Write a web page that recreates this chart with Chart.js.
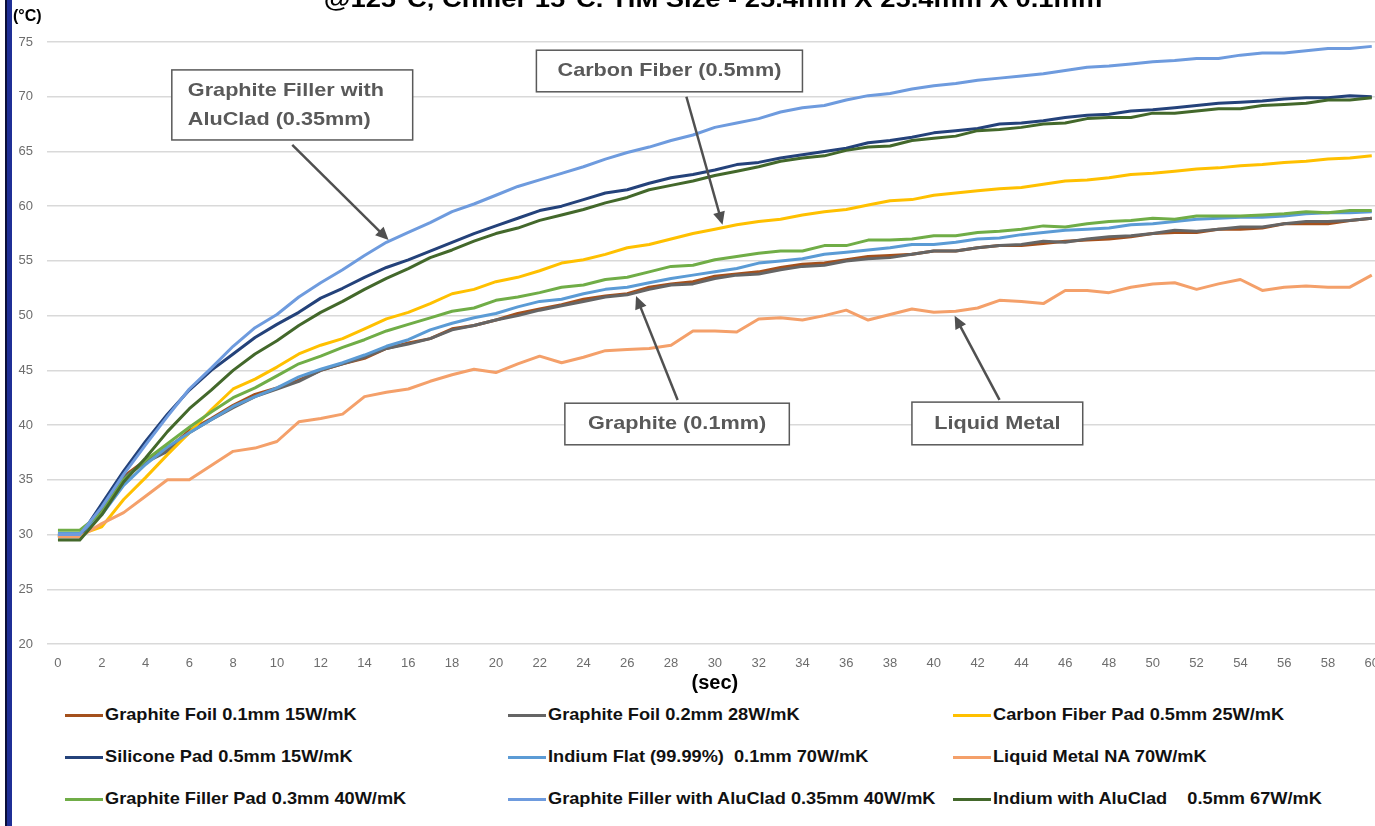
<!DOCTYPE html>
<html lang="en">
<head>
    <meta charset="UTF-8">
    <title>TIM temperature vs time</title>
    <script src="https://cdn.jsdelivr.net/npm/chart.js"></script>
    <style>
        html, body {
            margin: 0;
            padding: 0;
            background: #fff;
            width: 1375px;
            height: 826px;
            overflow: hidden;
            font-family: "Liberation Sans", Arial, sans-serif;
        }
        .page {
            position: relative;
            width: 1375px;
            height: 826px;
            overflow: hidden;
        }
        .side-bar {
            position: absolute;
            left: 5px;
            top: 0;
            width: 5px;
            height: 826px;
            background: #1f2f96;
            border-left: 2px solid #0a0f3a;
        }
        .title {
            position: absolute;
            top: -13px;
            left: 713px;
            font-weight: bold;
            font-size: 24px;
            line-height: 24px;
            color: #000;
            white-space: nowrap;
            transform: translateX(-50%) scaleX(1.14);
        }
        .unit-y {
            position: absolute;
            left: 13px;
            top: 7px;
            font-weight: bold;
            font-size: 16px;
            color: #000;
        }
        #timChart {
            position: absolute;
            left: 0;
            top: 0;
        }
        .legend-item {
            position: absolute;
            display: flex;
            align-items: center;
            height: 20px;
            white-space: pre;
        }
        .legend-item .swatch {
            width: 38px;
            height: 3px;
            margin-right: 2px;
        }
        .legend-item span {
            display: inline-block;
            font-weight: bold;
            font-size: 17px;
            color: #111;
            white-space: pre;
            transform: scaleX(1.07);
            transform-origin: left center;
        }
    </style>
</head>
<body>
<div class="page">
    <canvas id="timChart" width="1391" height="700"></canvas>
    <div class="title">@125°C, Chiller 15°C. TIM Size - 25.4mm X 25.4mm X 0.1mm</div>
    <div class="unit-y">(°C)</div>
    <div id="legend"></div>
    <div class="side-bar"></div>
</div>

<script>
// time axis (seconds)
const seconds = [0,1,2,3,4,5,6,7,8,9,10,11,12,13,14,15,16,17,18,19,20,
    21,22,23,24,25,26,27,28,29,30,31,32,33,34,35,36,37,38,39,40,
    41,42,43,44,45,46,47,48,49,50,51,52,53,54,55,56,57,58,59,60];

const seriesNames = [
    'Graphite Foil 0.1mm 15W/mK',
    'Graphite Foil 0.2mm 28W/mK',
    'Carbon Fiber Pad 0.5mm 25W/mK',
    'Silicone Pad 0.5mm 15W/mK',
    'Indium Flat (99.99%)  0.1mm 70W/mK',
    'Liquid Metal NA 70W/mK',
    'Graphite Filler Pad 0.3mm 40W/mK',
    'Graphite Filler with AluClad 0.35mm 40W/mK',
    'Indium with AluClad    0.5mm 67W/mK'
];
const seriesColors = ['#a4501c', '#656565', '#ffc000', '#24427a', '#5b9bd5', '#f4a06a', '#70ad47', '#6e9bde', '#43682b'];

const graphiteFoil01 = [29.9,29.9,32.2,35.3,36.8,37.8,39.5,40.6,41.8,42.8,43.4,44.1,45.0,45.6,46.1,47.0,47.5,47.9,48.8,49.1,49.6,
    50.2,50.6,51.0,51.5,51.8,52.0,52.6,52.9,53.1,53.6,53.8,54.0,54.4,54.7,54.8,55.1,55.4,55.5,55.6,55.9,
    55.9,56.2,56.4,56.4,56.6,56.8,56.9,57.0,57.2,57.5,57.6,57.6,57.9,57.9,58.0,58.4,58.4,58.4,58.7,58.9];
const graphiteFoil02 = [29.9,29.9,32.3,35.2,36.6,37.6,39.3,40.5,41.6,42.6,43.3,44.0,45.0,45.6,46.2,47.0,47.4,47.9,48.7,49.1,49.6,
    50.0,50.5,50.9,51.3,51.7,51.9,52.4,52.8,52.9,53.4,53.7,53.8,54.2,54.5,54.6,55.0,55.2,55.3,55.6,55.9,
    55.9,56.2,56.4,56.5,56.8,56.7,57.0,57.2,57.3,57.5,57.8,57.7,57.9,58.1,58.1,58.4,58.6,58.6,58.7,58.9];
const carbonFiber = [30.0,30.0,30.7,33.2,35.2,37.3,39.3,41.4,43.3,44.2,45.3,46.5,47.3,47.9,48.8,49.7,50.3,51.1,52.0,52.4,53.1,
    53.5,54.1,54.8,55.1,55.6,56.2,56.5,57.0,57.5,57.9,58.3,58.6,58.8,59.2,59.5,59.7,60.1,60.5,60.6,61.0,
    61.2,61.4,61.6,61.7,62.0,62.3,62.4,62.6,62.9,63.0,63.2,63.4,63.5,63.7,63.8,64.0,64.1,64.3,64.4,64.6];
const siliconePad = [29.8,29.8,32.8,35.8,38.5,41.0,43.2,45.0,46.5,48.0,49.2,50.3,51.6,52.5,53.5,54.4,55.1,55.9,56.7,57.5,58.2,
    58.9,59.6,60.0,60.6,61.2,61.5,62.1,62.6,62.9,63.3,63.8,64.0,64.4,64.7,65.0,65.3,65.8,66.0,66.3,66.7,
    66.9,67.1,67.5,67.6,67.8,68.1,68.3,68.4,68.7,68.8,69.0,69.2,69.4,69.5,69.6,69.8,69.9,69.9,70.1,70.0];
const indiumFlat = [30.1,30.1,31.8,34.5,36.4,38.0,39.3,40.5,41.7,42.6,43.4,44.4,45.1,45.7,46.4,47.2,47.8,48.7,49.3,49.8,50.2,
    50.8,51.3,51.5,52.0,52.4,52.6,53.0,53.4,53.7,54.0,54.3,54.8,55.0,55.2,55.6,55.8,56.0,56.2,56.5,56.5,
    56.7,57.0,57.1,57.4,57.6,57.8,57.9,58.0,58.3,58.4,58.6,58.8,58.9,59.0,59.0,59.1,59.3,59.4,59.4,59.5];
const liquidMetal = [29.8,29.8,31.0,32.0,33.5,35.0,35.0,36.3,37.6,37.9,38.5,40.3,40.6,41.0,42.6,43.0,43.3,44.0,44.6,45.1,44.8,
    45.6,46.3,45.7,46.2,46.8,46.9,47.0,47.3,48.6,48.6,48.5,49.7,49.8,49.6,50.0,50.5,49.6,50.1,50.6,50.3,
    50.4,50.7,51.4,51.3,51.1,52.3,52.3,52.1,52.6,52.9,53.0,52.4,52.9,53.3,52.3,52.6,52.7,52.6,52.6,53.7];
const graphiteFillerPad = [30.4,30.4,32.0,35.0,36.8,38.3,39.8,41.2,42.5,43.4,44.5,45.6,46.3,47.1,47.8,48.6,49.2,49.8,50.4,50.7,51.4,
    51.7,52.1,52.6,52.8,53.3,53.5,54.0,54.5,54.6,55.1,55.4,55.7,55.9,55.9,56.4,56.4,56.9,56.9,57.0,57.3,
    57.3,57.6,57.7,57.9,58.2,58.1,58.4,58.6,58.7,58.9,58.8,59.1,59.1,59.1,59.2,59.3,59.5,59.4,59.6,59.6];
const graphiteFillerAluClad = [30.0,30.0,32.5,35.5,38.2,40.8,43.3,45.2,47.2,48.9,50.1,51.7,53.0,54.2,55.5,56.7,57.6,58.5,59.5,60.2,61.0,
    61.8,62.4,63.0,63.6,64.3,64.9,65.4,66.0,66.5,67.2,67.6,68.0,68.6,69.0,69.2,69.7,70.1,70.3,70.7,71.0,
    71.2,71.5,71.7,71.9,72.1,72.4,72.7,72.8,73.0,73.2,73.3,73.5,73.5,73.8,74.0,74.0,74.2,74.4,74.4,74.6];
const indiumAluClad = [29.5,29.5,31.8,34.8,37.0,39.4,41.5,43.2,45.0,46.5,47.7,49.1,50.3,51.3,52.4,53.4,54.3,55.3,56.0,56.8,57.5,
    58.0,58.7,59.2,59.7,60.3,60.8,61.5,61.9,62.3,62.8,63.2,63.6,64.1,64.4,64.6,65.1,65.4,65.5,66.0,66.2,
    66.4,66.9,67.0,67.2,67.5,67.6,68.0,68.1,68.1,68.5,68.5,68.7,68.9,68.9,69.2,69.3,69.4,69.7,69.7,69.9];

const seriesValues = [graphiteFoil01, graphiteFoil02, carbonFiber, siliconePad, indiumFlat,
    liquidMetal, graphiteFillerPad, graphiteFillerAluClad, indiumAluClad];

// callouts: box corners and arrow ends in (seconds, °C)
const callouts = [
    { lines: ['Graphite Filler with', 'AluClad (0.35mm)'], align: 'left', box: [5.2, 72.45, 16.2, 66.05], from: [10.7, 65.6], to: [15.1, 56.9] },
    { lines: ['Carbon Fiber (0.5mm)'], align: 'center', box: [21.85, 74.25, 34.0, 70.45], from: [28.7, 70.0], to: [30.35, 58.3] },
    { lines: ['Graphite (0.1mm)'], align: 'center', box: [23.15, 42.0, 33.4, 38.2], from: [28.3, 42.3], to: [26.4, 51.8] },
    { lines: ['Liquid Metal'], align: 'center', box: [39.0, 42.1, 46.8, 38.2], from: [43.0, 42.3], to: [40.95, 50.0] }
];

const calloutPlugin = {
    id: 'callouts',
    afterDatasetsDraw(chart) {
        const ctx = chart.ctx;
        const xs = chart.scales.x, ys = chart.scales.y;
        ctx.save();
        callouts.forEach(c => {
            const x1 = xs.getPixelForValue(c.box[0]), y1 = ys.getPixelForValue(c.box[1]);
            const x2 = xs.getPixelForValue(c.box[2]), y2 = ys.getPixelForValue(c.box[3]);
            ctx.fillStyle = '#fff';
            ctx.fillRect(x1, y1, x2 - x1, y2 - y1);
            ctx.strokeStyle = '#595959';
            ctx.lineWidth = 1.5;
            ctx.strokeRect(x1, y1, x2 - x1, y2 - y1);

            ctx.fillStyle = '#595959';
            ctx.font = 'bold 19px "Liberation Sans", Arial, sans-serif';
            ctx.textBaseline = 'middle';
            const lh = 29;
            const cy = (y1 + y2) / 2 - (c.lines.length - 1) * lh / 2;
            c.lines.forEach((t, i) => {
                const w = ctx.measureText(t).width * 1.14;
                const tx = c.align === 'left' ? x1 + 16 : (x1 + x2) / 2 - w / 2;
                ctx.save();
                ctx.translate(tx, cy + i * lh);
                ctx.scale(1.14, 1);
                ctx.textAlign = 'left';
                ctx.fillText(t, 0, 0);
                ctx.restore();
            });

            // arrow
            const ax = xs.getPixelForValue(c.from[0]), ay = ys.getPixelForValue(c.from[1]);
            const bx = xs.getPixelForValue(c.to[0]), by = ys.getPixelForValue(c.to[1]);
            const ang = Math.atan2(by - ay, bx - ax);
            const head = 13;
            ctx.strokeStyle = '#505050';
            ctx.lineWidth = 2.5;
            ctx.beginPath();
            ctx.moveTo(ax, ay);
            ctx.lineTo(bx - Math.cos(ang) * head * 0.8, by - Math.sin(ang) * head * 0.8);
            ctx.stroke();
            ctx.fillStyle = '#505050';
            ctx.beginPath();
            ctx.moveTo(bx, by);
            ctx.lineTo(bx - head * Math.cos(ang) + 6 * Math.sin(ang), by - head * Math.sin(ang) - 6 * Math.cos(ang));
            ctx.lineTo(bx - head * Math.cos(ang) - 6 * Math.sin(ang), by - head * Math.sin(ang) + 6 * Math.cos(ang));
            ctx.closePath();
            ctx.fill();
        });
        ctx.restore();
    }
};

const datasets = seriesNames.map((name, i) => ({
    label: name,
    data: seriesValues[i],
    borderColor: seriesColors[i],
    backgroundColor: seriesColors[i],
    borderWidth: 3,
    pointRadius: 0,
    tension: 0,
    fill: false,
    borderJoinStyle: 'round',
    order: seriesNames.length - i
}));

new Chart(document.getElementById('timChart'), {
    type: 'line',
    data: { labels: seconds, datasets: datasets },
    options: {
        responsive: false,
        animation: false,
        layout: { padding: { top: 42, left: 0, right: 0, bottom: 0 } },
        plugins: {
            legend: { display: false },
            title: { display: false },
            tooltip: { enabled: false }
        },
        scales: {
            x: {
                type: 'category',
                offset: true,
                grid: { display: false, drawTicks: false },
                border: { display: false },
                ticks: {
                    autoSkip: false,
                    maxRotation: 0,
                    padding: 12,
                    color: '#6d6d6d',
                    font: { family: '"Liberation Sans", Arial, sans-serif', size: 13 },
                    callback: (v, i) => (i % 2 === 0 ? seconds[i] : '')
                },
                title: {
                    display: true,
                    text: '(sec)',
                    color: '#000',
                    font: { family: '"Liberation Sans", Arial, sans-serif', size: 20, weight: 'bold' },
                    padding: { top: 0, bottom: 5 }
                },
                afterFit: s => { s.height = 56; }
            },
            y: {
                min: 20,
                max: 75,
                grid: { color: '#d9d9d9', lineWidth: 1.5, drawTicks: false },
                border: { display: false },
                ticks: {
                    stepSize: 5,
                    padding: 14,
                    color: '#6d6d6d',
                    font: { family: '"Liberation Sans", Arial, sans-serif', size: 13 }
                },
                afterFit: s => { s.width = 47; }
            }
        }
    },
    plugins: [calloutPlugin]
});

// legend, 3 columns x 3 rows
const legendCols = [65, 508, 953];
const legendEl = document.getElementById('legend');
seriesNames.forEach((name, i) => {
    const item = document.createElement('div');
    item.className = 'legend-item';
    item.style.left = legendCols[i % 3] + 'px';
    item.style.top = (705 + Math.floor(i / 3) * 42) + 'px';
    const sw = document.createElement('div');
    sw.className = 'swatch';
    sw.style.background = seriesColors[i];
    const tx = document.createElement('span');
    tx.textContent = name;
    item.appendChild(sw);
    item.appendChild(tx);
    legendEl.appendChild(item);
});
</script>
</body>
</html>
